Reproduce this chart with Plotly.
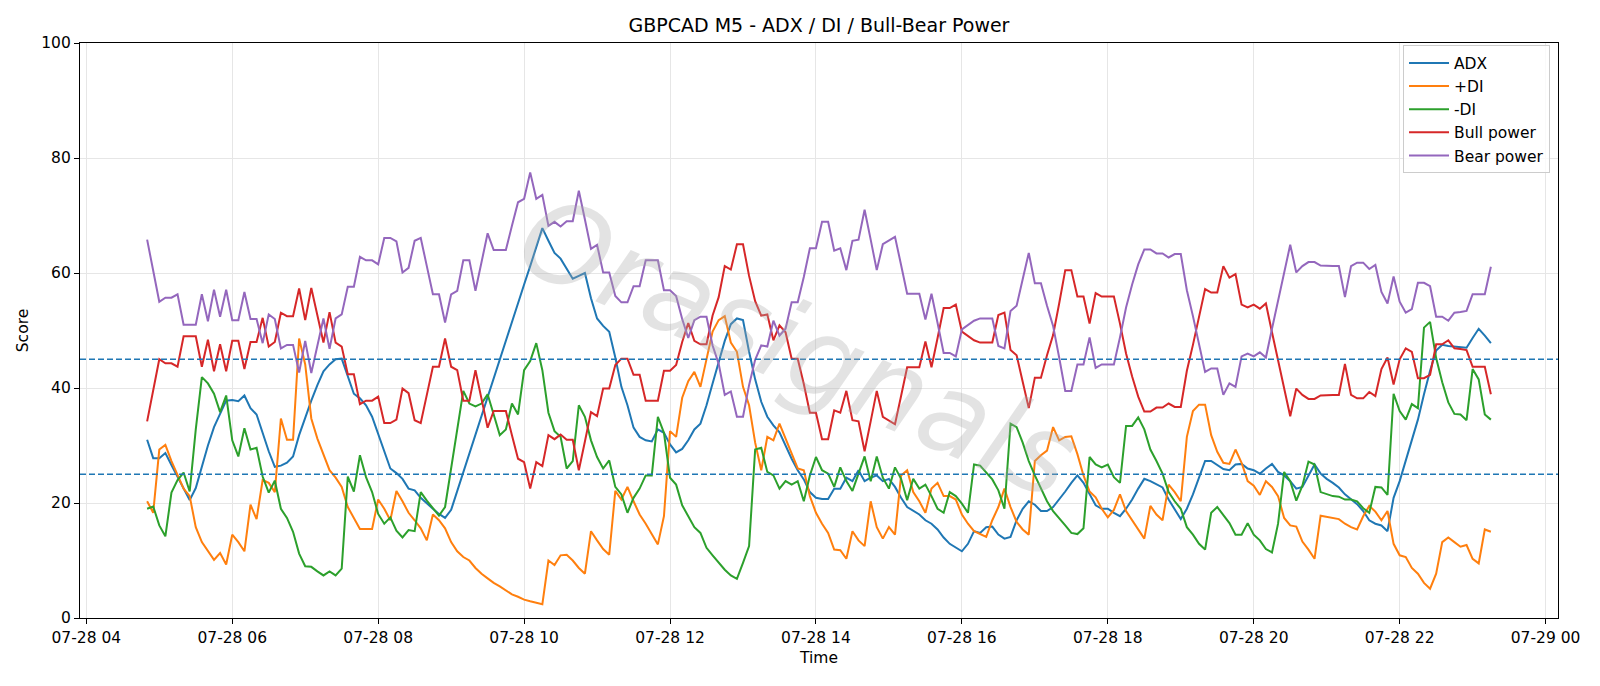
import pandas as pd
import plotly.graph_objects as go

START = "2025-07-28 04:50"
FREQ_MIN = 5

adx = [31.0, 27.8, 27.8, 28.7, 26.6, 24.6, 22.7, 20.5, 22.6, 26.5, 30.0, 33.2, 35.4, 37.8, 37.9,
       37.7, 38.7, 36.5, 35.4, 32.0, 29.0, 26.3, 26.5, 27.0, 28.1, 31.8, 35.0, 37.8, 40.5, 42.9,
       44.1, 45.0, 45.1, 42.0, 39.0, 38.2, 37.0, 35.0, 32.0, 29.0, 26.0, 25.2, 24.2, 22.5, 22.2,
       20.9, 19.9, 19.0, 18.1, 17.4, 18.8, 22.1, 25.3, 28.7, 31.9, 35.1, 38.3, 41.7, 45.0, 48.2,
       51.4, 54.8, 58.0, 61.2, 64.4, 67.8, 65.6, 63.5,
       62.5, 60.8, 59.0, 59.5, 60.0, 55.6, 52.1, 50.8, 49.8, 45.3, 40.2, 37.0, 33.1, 31.5, 30.9,
       30.7, 32.8, 32.2, 30.2, 28.8, 29.4, 30.9, 32.8,
       33.8, 37.0, 40.8, 44.7, 48.2, 51.1, 52.1, 51.8, 46.3, 41.5, 37.6, 35.0, 33.5, 32.3, 29.9,
       27.7, 25.7, 24.1, 21.9, 20.9, 20.7, 20.7, 22.5,
       22.5, 24.4, 23.8, 25.7, 23.8, 24.4, 24.8, 23.8, 24.2, 22.8, 20.9, 19.3, 18.6, 18.0, 17.0,
       16.4, 15.4, 14.0, 12.9, 12.2, 11.6, 12.9, 15.1,
       14.8, 15.8, 15.9, 14.5, 13.8, 14.1, 17.0, 19.0, 20.3, 19.7, 18.6, 18.6, 19.3, 20.6, 22.0,
       23.5, 24.8, 23.5, 21.5, 19.6, 19.0, 19.0, 18.3,
       17.7, 19.0, 20.6, 22.5, 24.2, 23.8, 23.3, 22.7, 20.6, 19.0, 17.2, 19.0, 21.5, 24.4, 27.3,
       27.3, 26.6, 25.9, 25.7, 26.7, 26.8, 26.0, 25.7,
       25.1, 26.0, 26.8, 25.4, 24.8, 23.8, 22.5, 22.8, 24.8, 26.7, 25.1, 24.2, 23.5, 22.7, 21.5,
       20.6, 19.8, 18.6, 17.0, 16.4, 16.1, 15.1, 20.9,
       23.8, 27.3, 31.0, 34.5, 38.9, 43.0, 46.5, 47.5, 47.3, 47.2, 47.1, 47.0, 48.7, 50.3, 49.1, 47.8]

plus_di = [20.3, 18.3, 29.3, 30.1, 27.3, 24.8, 22.5, 21.2, 15.8, 13.2, 11.6, 10.1, 11.3, 9.3, 14.5,
           13.2, 11.6, 19.7, 17.2, 24.0, 23.5, 21.9, 34.7, 31.0, 31.0, 48.6, 44.1, 34.7, 31.2, 28.6,
           25.7, 24.4, 22.8, 19.3, 17.3, 15.5, 15.5, 15.5, 20.6, 19.0, 17.0, 22.1, 20.3, 18.3, 17.0,
           15.6, 13.5, 18.0, 17.0, 15.6, 13.2, 11.6, 10.6, 10.0, 8.7, 7.7, 6.9, 6.1, 5.5, 4.8,
           4.1, 3.7, 3.2, 2.9, 2.6, 2.4, 10.0, 9.2,
           10.9, 11.0, 10.0, 8.7, 7.7, 15.1, 13.5, 12.0, 11.0, 22.1, 20.6, 22.8, 20.3, 18.0, 16.4,
           14.5, 12.8, 17.7, 32.5, 31.5, 38.3, 41.2, 42.8,
           40.2, 45.3, 49.8, 51.8, 52.5, 47.9, 46.3, 40.2, 37.0, 30.5, 25.7, 31.5, 30.9, 33.8, 31.2,
           28.6, 26.0, 25.7, 21.2, 18.3, 16.4, 14.8, 11.9,
           11.8, 10.3, 15.1, 13.5, 12.5, 20.3, 15.8, 13.8, 15.8, 14.5, 24.8, 25.7, 21.9, 20.3, 18.3,
           22.5, 23.5, 21.2, 21.2, 20.6, 18.0, 16.4, 15.1,
           14.6, 14.1, 17.0, 19.3, 22.5, 19.3, 16.7, 15.4, 14.5, 27.3, 28.3, 29.1, 33.2, 30.9, 31.5,
           31.6, 28.5, 24.8, 22.0, 21.0, 19.0, 17.5, 18.8,
           21.5, 18.6, 17.0, 15.4, 13.8, 19.5, 18.0, 17.0, 23.2, 21.9, 20.3, 31.5, 36.0, 37.1, 37.1,
           31.8, 28.9, 27.0, 26.8, 29.3, 27.0, 23.8, 23.0,
           21.4, 23.8, 22.8, 21.2, 17.4, 16.1, 15.9, 13.3, 11.9, 10.3, 17.8, 17.6, 17.4, 17.2, 16.4,
           15.8, 15.4, 17.7, 19.5, 18.5, 17.0, 18.6, 12.9,
           10.9, 10.6, 8.7, 7.7, 6.1, 5.1, 7.7, 13.2, 14.0, 13.2, 12.4, 12.7, 10.3, 9.5, 15.4, 15.0]

minus_di = [19.0, 19.4, 16.1, 14.2, 21.8, 24.0, 25.3, 22.0, 32.8, 41.9, 40.8, 39.0, 35.8, 38.7, 30.9,
            28.1, 33.0, 29.3, 29.6, 24.6, 21.8, 23.9, 19.0, 17.4, 15.0, 11.2, 9.0, 8.9, 8.1, 7.4,
            8.1, 7.4, 8.6, 24.6, 22.0, 28.3, 24.5, 21.9, 18.1, 16.4, 17.5, 15.2, 14.0, 15.3, 15.1,
            21.9, 20.4, 19.0, 17.8, 19.3, 26.0, 32.8, 39.5, 37.3, 36.8, 37.3, 38.9, 35.4, 31.8, 32.8,
            37.3, 35.4, 43.1, 44.7, 47.8, 43.1, 35.7, 32.5,
            31.5, 26.0, 27.3, 37.0, 35.0, 30.9, 28.0, 26.0, 27.4, 22.8, 21.5, 18.3, 20.9, 22.5, 24.8,
            24.8, 35.0, 32.2, 24.4, 23.2, 19.6, 17.7, 15.8,
            14.8, 12.2, 10.9, 9.6, 8.4, 7.4, 6.8, 9.6, 12.5, 29.3, 29.6, 25.4, 24.8, 22.5, 23.8,
            23.2, 23.8, 20.3, 24.8, 28.0, 25.7, 25.1, 22.8,
            26.2, 23.8, 22.1, 25.1, 28.1, 23.8, 28.1, 24.4, 22.5, 26.2, 24.2, 20.5, 24.2, 22.5, 23.2,
            21.2, 19.0, 18.3, 21.9, 21.2, 19.9, 18.3, 26.7,
            26.5, 25.2, 24.1, 22.2, 19.0, 33.8, 33.2, 30.5, 27.3, 24.8, 22.5, 20.3, 18.6, 17.4, 16.1,
            14.8, 14.6, 15.6, 28.0, 26.7, 26.2, 26.7, 24.5,
            23.5, 33.4, 33.4, 34.9, 32.8, 29.3, 27.3, 25.1, 21.9, 20.3, 19.0, 15.8, 14.5, 12.9, 11.9,
            18.3, 19.3, 18.0, 16.5, 14.5, 14.5, 16.5, 14.5,
            13.5, 12.0, 11.4, 16.4, 25.4, 23.8, 20.4, 23.0, 27.2, 26.7, 21.9, 21.5, 21.2, 21.1, 20.6,
            20.6, 20.3, 19.1, 18.3, 22.8, 22.7, 21.4, 39.0,
            36.0, 34.5, 37.2, 36.5, 50.5, 51.5, 45.2, 41.0, 37.5, 35.5, 35.4, 34.4, 43.3, 41.5, 35.4, 34.5]

bull_power = [34.2, 39.6, 45.0, 44.3, 44.3, 43.7, 49.0, 49.0, 49.0, 43.7, 48.4, 42.9, 47.6, 42.9, 48.2,
              48.2, 43.3, 48.0, 48.0, 52.2, 47.2, 48.0, 53.1, 52.5, 52.5, 57.3, 51.8, 57.4, 52.5, 47.9,
              53.2, 47.9, 47.2, 42.4, 42.4, 37.2, 37.8, 37.8, 38.5, 33.9, 33.9, 34.5, 39.9, 39.1, 34.4,
              33.9, 38.8, 43.7, 43.7, 48.6, 43.7, 43.1, 37.8, 37.8, 43.1, 38.2, 33.1, 36.0, 36.0, 36.0,
              31.8, 27.7, 27.1, 22.5, 27.1, 26.4, 31.8, 31.1,
              31.9, 31.0, 31.0, 25.7, 30.7, 35.8, 35.1, 39.9, 39.9, 44.0, 45.1, 45.1, 42.3, 42.3, 37.8,
              37.8, 37.8, 43.0, 43.0, 44.0, 48.0, 51.3, 48.2,
              47.6, 47.6, 52.6, 55.8, 61.2, 60.6, 65.0, 65.0, 59.5, 55.1, 52.6, 52.8, 48.3, 50.9, 49.7,
              45.1, 45.1, 40.7, 35.7, 35.7, 31.1, 31.1, 36.1,
              35.7, 39.5, 34.4, 34.2, 29.0, 34.2, 39.5, 35.0, 34.4, 33.7, 38.6, 43.6, 43.6, 43.6, 48.1,
              43.6, 48.7, 53.9, 53.9, 54.5, 49.8, 49.0, 48.3,
              47.9, 47.9, 47.9, 52.7, 53.1, 46.6, 45.7, 41.1, 36.5, 41.8, 41.8, 45.7, 49.2, 54.7, 60.5,
              60.5, 55.9, 55.9, 51.2, 56.5, 55.9, 55.9, 55.9,
              51.2, 46.0, 42.0, 38.5, 35.9, 35.9, 36.6, 36.6, 37.3, 36.7, 36.7, 43.0, 47.5, 52.5, 57.2,
              56.6, 56.6, 61.2, 59.2, 59.8, 54.5, 54.0, 54.5,
              53.8, 54.7, 49.7, 45.0, 40.2, 35.1, 39.9, 38.8, 38.1, 38.1, 38.7, 38.8, 38.8, 38.8, 44.2,
              38.8, 38.2, 38.2, 39.3, 38.6, 43.3, 45.3, 40.6,
              45.0, 46.9, 46.3, 41.7, 41.7, 42.3, 47.6, 47.6, 48.3, 46.9, 46.8, 46.6, 43.7, 43.7, 43.7, 38.9]

bear_power = [65.8, 60.4, 55.0, 55.7, 55.7, 56.3, 51.0, 51.0, 51.0, 56.3, 51.6, 57.1, 52.4, 57.1, 51.8,
              51.8, 56.7, 52.0, 52.0, 47.8, 52.8, 52.0, 46.9, 47.5, 47.5, 42.7, 48.2, 42.6, 47.5, 52.1,
              46.8, 52.1, 52.8, 57.6, 57.6, 62.8, 62.2, 62.2, 61.5, 66.1, 66.1, 65.5, 60.1, 60.9, 65.6,
              66.1, 61.2, 56.3, 56.3, 51.4, 56.3, 56.9, 62.2, 62.2, 56.9, 61.8, 66.9, 64.0, 64.0, 64.0,
              68.2, 72.3, 72.9, 77.5, 72.9, 73.6, 68.2, 68.9,
              68.1, 69.0, 69.0, 74.3, 69.3, 64.2, 64.9, 60.1, 60.1, 56.0, 54.9, 54.9, 57.7, 57.7, 62.2,
              62.2, 62.2, 57.0, 57.0, 56.0, 52.0, 48.7, 51.8,
              52.4, 52.4, 47.4, 44.2, 38.8, 39.4, 35.0, 35.0, 40.5, 44.9, 47.4, 47.2, 51.7, 49.1, 50.3,
              54.9, 54.9, 59.3, 64.3, 64.3, 68.9, 68.9, 63.9,
              64.3, 60.5, 65.6, 65.8, 71.0, 65.8, 60.5, 65.0, 65.6, 66.3, 61.4, 56.4, 56.4, 56.4, 51.9,
              56.4, 51.3, 46.1, 46.1, 45.5, 50.2, 51.0, 51.7,
              52.1, 52.1, 52.1, 47.3, 46.9, 53.4, 54.3, 58.9, 63.5, 58.2, 58.2, 54.3, 50.8, 45.3, 39.5,
              39.5, 44.1, 44.1, 48.8, 43.5, 44.1, 44.1, 44.1,
              48.8, 54.0, 58.0, 61.5, 64.1, 64.1, 63.4, 63.4, 62.7, 63.3, 63.3, 57.0, 52.5, 47.5, 42.8,
              43.4, 43.4, 38.8, 40.8, 40.2, 45.5, 46.0, 45.5,
              46.2, 45.3, 50.3, 55.0, 59.8, 64.9, 60.1, 61.2, 61.9, 61.9, 61.3, 61.2, 61.2, 61.2, 55.8,
              61.2, 61.8, 61.8, 60.7, 61.4, 56.7, 54.7, 59.4,
              55.0, 53.1, 53.7, 58.3, 58.3, 57.7, 52.4, 52.4, 51.7, 53.1, 53.2, 53.4, 56.3, 56.3, 56.3, 61.1]

thresholds = [25, 45]
series_names = ["ADX", "+DI", "-DI", "Bull power", "Bear power"]
series_colors = ["#1f77b4", "#ff7f0e", "#2ca02c", "#d62728", "#9467bd"]

times = pd.date_range(START, periods=len(adx), freq=f"{FREQ_MIN}min")

FONT = "DejaVu Sans"
FS = 15.5
fig = go.Figure()
for name, vals, col in zip(series_names, [adx, plus_di, minus_di, bull_power, bear_power], series_colors):
    fig.add_trace(go.Scatter(x=times, y=vals, mode="lines", name=name,
                             line=dict(color=col, width=2)))

for th in thresholds:
    fig.add_shape(type="line", xref="paper", x0=0, x1=1, yref="y", y0=th, y1=th,
                  line=dict(color="#1f77b4", width=1.4, dash="6px,3px"), layer="above")

# watermark
fig.add_annotation(text="<i>Orasignals</i>", xref="paper", yref="paper", x=0.486, y=0.472,
                   showarrow=False, textangle=23.5,
                   font=dict(family="DejaVu Sans", size=112, color="rgba(170,170,170,0.33)"))

fig.update_layout(
    width=1600, height=686,
    margin=dict(l=80, r=42, t=43, b=68),
    paper_bgcolor="white", plot_bgcolor="white",
    font=dict(family=FONT, size=FS, color="black"),
    title=dict(text="GBPCAD M5 - ADX / DI / Bull-Bear Power", x=0.5, xanchor="center", xref="paper",
               y=1 - 25.5 / 686, yanchor="middle", yref="container",
               font=dict(family=FONT, size=19, color="black")),
    showlegend=True,
    legend=dict(x=0.9946, xanchor="right", y=0.996, yanchor="top",
                bgcolor="rgba(255,255,255,0.8)", bordercolor="#cccccc", borderwidth=1,
                font=dict(family=FONT, size=FS, color="black"),
                itemwidth=40),
)
fig.update_xaxes(
    type="date",
    range=["2025-07-28 03:54:48", "2025-07-29 00:10:12"],
    tick0="2025-07-28 00:00", dtick=2 * 3600 * 1000, tickformat="%m-%d %H",
    showgrid=True, gridcolor="#e6e6e6", gridwidth=1,
    showline=True, linecolor="black", linewidth=1.2, mirror=True,
    ticks="outside", ticklen=5, tickcolor="black",
    tickfont=dict(family=FONT, size=FS),
    title=dict(text="Time", font=dict(family=FONT, size=FS), standoff=6),
    zeroline=False,
)
fig.update_yaxes(
    range=[0, 100], dtick=20,
    showgrid=True, gridcolor="#e6e6e6", gridwidth=1,
    showline=True, linecolor="black", linewidth=1.2, mirror=True,
    ticks="outside", ticklen=5, tickcolor="black",
    tickfont=dict(family=FONT, size=FS),
    title=dict(text="Score", font=dict(family=FONT, size=FS), standoff=8),
    zeroline=False,
)

fig.write_html("out.html")
